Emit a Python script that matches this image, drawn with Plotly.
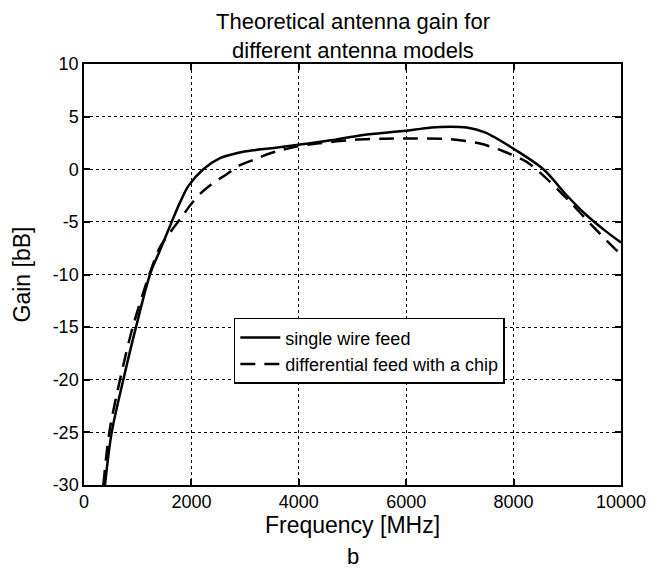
import plotly.graph_objects as go

# Single wire feed (solid)
freq_single = [391, 516, 732, 968, 1229, 1415, 1633, 1788, 1942, 2222, 2533, 2873,
               3147, 3500, 3960, 4600, 5200, 5885, 6443, 6630, 7127, 7467, 7995,
               8554, 8988, 9360, 9733, 10000]
gain_single = [-30, -25, -20, -15, -10, -7.7, -5.0, -3.15, -1.6, 0, 1.05, 1.56,
               1.8, 2.0, 2.3, 2.75, 3.25, 3.6, 3.95, 4.02, 3.96, 3.5, 1.96,
               0, -2.47, -4.37, -5.95, -6.96]

# Differential feed with a chip (dashed)
freq_diff = [360, 471, 670, 907, 1216, 1415, 1633, 1819, 1974, 2160, 2378, 2657,
             2873, 3215, 3400, 3587, 3960, 4333, 4705, 5000, 5600, 6200, 6816,
             7374, 7809, 8243, 8615, 9050, 9485, 9950, 10000]
gain_diff = [-30, -25, -20, -15, -10, -7.4, -5.8, -4.55, -3.45, -2.35, -1.4, -0.47,
             0.31, 1.0, 1.4, 1.7, 2.15, 2.44, 2.65, 2.8, 2.9, 2.92, 2.85,
             2.44, 1.71, 0.7, -0.89, -3.1, -5.48, -7.85, -8.0]

x_ticks = [0, 2000, 4000, 6000, 8000, 10000]
y_ticks = [-30, -25, -20, -15, -10, -5, 0, 5, 10]
y_tick_text = ["-30", "-25", "-20", "-15", "-10", "-5", "0", "5", "10"]

FONT = "Liberation Sans, Arial, sans-serif"

fig = go.Figure()
fig.add_trace(go.Scatter(x=freq_single, y=gain_single, mode="lines",
                         name="single wire feed",
                         line=dict(color="black", width=2.5, shape="spline", smoothing=0.9)))
fig.add_trace(go.Scatter(x=freq_diff, y=gain_diff, mode="lines",
                         name="differential feed with a chip",
                         line=dict(color="black", width=2.5, dash="15px,9px",
                                   shape="spline", smoothing=0.8)))

axis_common = dict(showline=True, linecolor="black", linewidth=1.5, mirror="allticks",
                   ticks="inside", ticklen=6, tickcolor="black", tickwidth=1.5,
                   showgrid=True, gridcolor="black", gridwidth=1, griddash="dot",
                   zeroline=False, automargin=False,
                   tickfont=dict(family=FONT, size=18, color="black"))

fig.update_xaxes(range=[0, 10000], tickvals=x_ticks, ticktext=[str(v) for v in x_ticks],
                 title=dict(text="Frequency [MHz]", font=dict(family=FONT, size=23, color="black"),
                            standoff=2),
                 **axis_common)
fig.update_yaxes(range=[-30, 10], tickvals=y_ticks, ticktext=y_tick_text,
                 title=dict(text="Gain [bB]", font=dict(family=FONT, size=23, color="black"),
                            standoff=16),
                 **axis_common)

# page body has an 8px default margin, so the figure is sized/margined to compensate
fig.update_layout(
    width=659, height=563,
    margin=dict(l=76, r=46, t=56, b=86, autoexpand=False),
    paper_bgcolor="white", plot_bgcolor="white",
    font=dict(family=FONT, color="black"),
    legend=dict(x=0.279, y=0.397, xanchor="left", yanchor="top",
                bgcolor="white", bordercolor="black", borderwidth=1.5,
                font=dict(family=FONT, size=18, color="black"),
                tracegroupgap=0, itemwidth=40),
    showlegend=True,
    annotations=[
        dict(text="Theoretical antenna gain for<br>different antenna models",
             x=0.5, xref="paper", y=1.0, yref="paper", xanchor="center", yanchor="bottom",
             yshift=0, borderpad=0, showarrow=False, align="center",
             font=dict(family=FONT, size=22, color="black")),
        dict(text="b", x=0.5, xref="paper", y=-0.169, yref="paper",
             xanchor="center", yanchor="middle", borderpad=0, showarrow=False,
             font=dict(family=FONT, size=22, color="black")),
    ],
)

fig.write_html("out.html")
